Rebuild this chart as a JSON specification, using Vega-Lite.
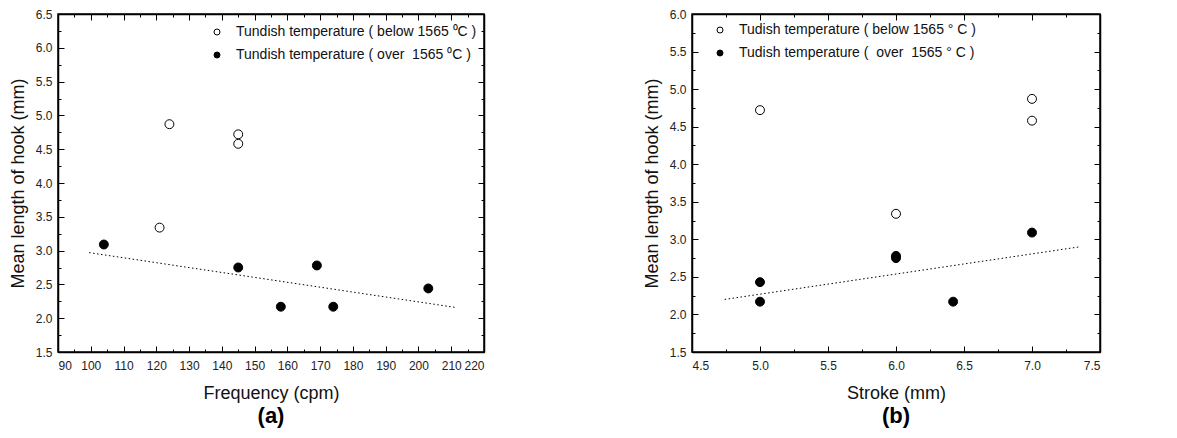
{
  "$schema": "https://vega.github.io/schema/vega-lite/v6.json",
  "background": "white",
  "padding": {"left": 8, "top": 7, "right": 5, "bottom": 5},
  "config": {
    "font": "Liberation Sans",
    "view": {"stroke": "black", "strokeWidth": 1.5},
    "axis": {
      "grid": false,
      "labelFont": "Liberation Sans",
      "labelFontSize": 12,
      "labelColor": "#222",
      "titleFont": "Liberation Sans",
      "titleFontSize": 18,
      "titleFontWeight": "normal",
      "titleColor": "#111",
      "domainColor": "black",
      "domainWidth": 1.5,
      "tickColor": "black",
      "tickWidth": 1
    },
    "legend": {
      "labelFont": "Liberation Sans",
      "labelFontSize": 14,
      "labelColor": "#111",
      "labelLimit": 400,
      "symbolType": "circle",
      "symbolSize": 36,
      "symbolStrokeColor": "black",
      "symbolStrokeWidth": 1,
      "rowPadding": 9,
      "padding": 0,
      "labelOffset": 12
    },
    "title": {"font": "Liberation Sans", "fontSize": 22, "fontWeight": "bold", "color": "black"}
  },
  "datasets": {
    "a": [
      {"frequency": 124, "hook": 4.87, "group": "Tundish temperature ( below 1565 ⁰C )"},
      {"frequency": 145, "hook": 4.72, "group": "Tundish temperature ( below 1565 ⁰C )"},
      {"frequency": 145, "hook": 4.58, "group": "Tundish temperature ( below 1565 ⁰C )"},
      {"frequency": 121, "hook": 3.34, "group": "Tundish temperature ( below 1565 ⁰C )"},
      {"frequency": 104, "hook": 3.09, "group": "Tundish temperature ( over \u00a01565 ⁰C )"},
      {"frequency": 145, "hook": 2.75, "group": "Tundish temperature ( over \u00a01565 ⁰C )"},
      {"frequency": 158, "hook": 2.17, "group": "Tundish temperature ( over \u00a01565 ⁰C )"},
      {"frequency": 169, "hook": 2.78, "group": "Tundish temperature ( over \u00a01565 ⁰C )"},
      {"frequency": 174, "hook": 2.17, "group": "Tundish temperature ( over \u00a01565 ⁰C )"},
      {"frequency": 203, "hook": 2.44, "group": "Tundish temperature ( over \u00a01565 ⁰C )"}
    ],
    "a_fit": [
      {"frequency": 99.5, "hook": 2.97},
      {"frequency": 211.2, "hook": 2.16}
    ],
    "b": [
      {"stroke": 5.0, "hook": 4.72, "group": "Tudish temperature ( below 1565 ° C )"},
      {"stroke": 7.0, "hook": 4.87, "group": "Tudish temperature ( below 1565 ° C )"},
      {"stroke": 7.0, "hook": 4.58, "group": "Tudish temperature ( below 1565 ° C )"},
      {"stroke": 6.0, "hook": 3.34, "group": "Tudish temperature ( below 1565 ° C )"},
      {"stroke": 5.0, "hook": 2.43, "group": "Tudish temperature (\u00a0 over \u00a01565 ° C )"},
      {"stroke": 5.0, "hook": 2.17, "group": "Tudish temperature (\u00a0 over \u00a01565 ° C )"},
      {"stroke": 6.0, "hook": 2.78, "group": "Tudish temperature (\u00a0 over \u00a01565 ° C )"},
      {"stroke": 6.0, "hook": 2.75, "group": "Tudish temperature (\u00a0 over \u00a01565 ° C )"},
      {"stroke": 6.42, "hook": 2.17, "group": "Tudish temperature (\u00a0 over \u00a01565 ° C )"},
      {"stroke": 7.0, "hook": 3.09, "group": "Tudish temperature (\u00a0 over \u00a01565 ° C )"}
    ],
    "b_fit": [
      {"stroke": 4.74, "hook": 2.2},
      {"stroke": 7.35, "hook": 2.9}
    ]
  },
  "hconcat": [
    {
      "width": 426,
      "height": 338,
      "title": {"text": "(a)", "orient": "bottom", "anchor": "middle", "offset": 4},
      "layer": [
        {
          "data": {"name": "a_fit"},
          "mark": {"type": "line", "color": "black", "strokeWidth": 1, "strokeDash": [1.5, 2.5]},
          "encoding": {
            "x": {"field": "frequency", "type": "quantitative",
              "scale": {"domain": [90, 220], "nice": false, "zero": false},
              "axis": {"orient": "top", "labels": false, "title": null,
                "values": [90,95,100,105,110,115,120,125,130,135,140,145,150,155,160,165,170,175,180,185,190,195,200,205,210,215,220],
                "tickSize": {"condition": {"test": "datum.value % 10 === 0", "value": -6}, "value": -3}}},
            "y": {"field": "hook", "type": "quantitative",
              "scale": {"domain": [1.5, 6.5], "nice": false, "zero": false},
              "axis": {"orient": "right", "labels": false, "title": null,
                "values": [1.5,1.75,2,2.25,2.5,2.75,3,3.25,3.5,3.75,4,4.25,4.5,4.75,5,5.25,5.5,5.75,6,6.25,6.5],
                "tickSize": {"condition": {"test": "datum.value % 0.5 === 0", "value": -6}, "value": -3}}}
          }
        },
        {
          "data": {"name": "a"},
          "mark": {"type": "point", "shape": "circle", "filled": true, "stroke": "black", "strokeWidth": 1, "size": 80, "opacity": 1},
          "encoding": {
            "x": {"field": "frequency", "type": "quantitative",
              "scale": {"domain": [90, 220], "nice": false, "zero": false},
              "axis": {"orient": "bottom", "title": "Frequency (cpm)", "titlePadding": 13,
                "values": [90,95,100,105,110,115,120,125,130,135,140,145,150,155,160,165,170,175,180,185,190,195,200,205,210,215,220],
                "labelExpr": "datum.value % 10 === 0 ? datum.label : ''",
                "labelPadding": 14,
                "tickSize": {"condition": {"test": "datum.value % 10 === 0", "value": -6}, "value": -3}}},
            "y": {"field": "hook", "type": "quantitative",
              "scale": {"domain": [1.5, 6.5], "nice": false, "zero": false},
              "axis": {"orient": "left", "title": "Mean length of hook (mm)", "titlePadding": 8,
                "values": [1.5,1.75,2,2.25,2.5,2.75,3,3.25,3.5,3.75,4,4.25,4.5,4.75,5,5.25,5.5,5.75,6,6.25,6.5],
                "labelExpr": "datum.value % 0.5 === 0 ? format(datum.value, '.1f') : ''",
                "labelPadding": 12,
                "tickSize": {"condition": {"test": "datum.value % 0.5 === 0", "value": -6}, "value": -3}}},
            "fill": {"field": "group", "type": "nominal",
              "scale": {"domain": ["Tundish temperature ( below 1565 ⁰C )", "Tundish temperature ( over \u00a01565 ⁰C )"], "range": ["white", "black"]},
              "legend": {"title": null, "orient": "none", "legendX": 152, "legendY": 11}}
          }
        }
      ],
      "resolve": {"axis": {"x": "independent", "y": "independent"}}
    },
    {
      "width": 408,
      "height": 338,
      "title": {"text": "(b)", "orient": "bottom", "anchor": "middle", "offset": 4},
      "layer": [
        {
          "data": {"name": "b_fit"},
          "mark": {"type": "line", "color": "black", "strokeWidth": 1, "strokeDash": [1.5, 2.5]},
          "encoding": {
            "x": {"field": "stroke", "type": "quantitative",
              "scale": {"domain": [4.5, 7.5], "nice": false, "zero": false},
              "axis": {"orient": "top", "labels": false, "title": null,
                "values": [4.5,4.75,5,5.25,5.5,5.75,6,6.25,6.5,6.75,7,7.25,7.5],
                "tickSize": {"condition": {"test": "datum.value % 0.5 === 0", "value": -6}, "value": -3}}},
            "y": {"field": "hook", "type": "quantitative",
              "scale": {"domain": [1.5, 6.0], "nice": false, "zero": false},
              "axis": {"orient": "right", "labels": false, "title": null,
                "values": [1.5,1.75,2,2.25,2.5,2.75,3,3.25,3.5,3.75,4,4.25,4.5,4.75,5,5.25,5.5,5.75,6],
                "tickSize": {"condition": {"test": "datum.value % 0.5 === 0", "value": -6}, "value": -3}}}
          }
        },
        {
          "data": {"name": "b"},
          "mark": {"type": "point", "shape": "circle", "filled": true, "stroke": "black", "strokeWidth": 1, "size": 80, "opacity": 1},
          "encoding": {
            "x": {"field": "stroke", "type": "quantitative",
              "scale": {"domain": [4.5, 7.5], "nice": false, "zero": false},
              "axis": {"orient": "bottom", "title": "Stroke (mm)", "titlePadding": 13,
                "values": [4.5,4.75,5,5.25,5.5,5.75,6,6.25,6.5,6.75,7,7.25,7.5],
                "labelExpr": "datum.value % 0.5 === 0 ? format(datum.value, '.1f') : ''",
                "labelPadding": 14,
                "tickSize": {"condition": {"test": "datum.value % 0.5 === 0", "value": -6}, "value": -3}}},
            "y": {"field": "hook", "type": "quantitative",
              "scale": {"domain": [1.5, 6.0], "nice": false, "zero": false},
              "axis": {"orient": "left", "title": "Mean length of hook (mm)", "titlePadding": 8,
                "values": [1.5,1.75,2,2.25,2.5,2.75,3,3.25,3.5,3.75,4,4.25,4.5,4.75,5,5.25,5.5,5.75,6],
                "labelExpr": "datum.value % 0.5 === 0 ? format(datum.value, '.1f') : ''",
                "labelPadding": 12,
                "tickSize": {"condition": {"test": "datum.value % 0.5 === 0", "value": -6}, "value": -3}}},
            "fill": {"field": "group", "type": "nominal",
              "scale": {"domain": ["Tudish temperature ( below 1565 ° C )", "Tudish temperature (\u00a0 over \u00a01565 ° C )"], "range": ["white", "black"]},
              "legend": {"title": null, "orient": "none", "legendX": 21, "legendY": 9}}
          }
        }
      ],
      "resolve": {"axis": {"x": "independent", "y": "independent"}}
    }
  ],
  "spacing": 156,
  "resolve": {"scale": {"x": "independent", "y": "independent", "fill": "independent"}, "legend": {"fill": "independent"}}
}
